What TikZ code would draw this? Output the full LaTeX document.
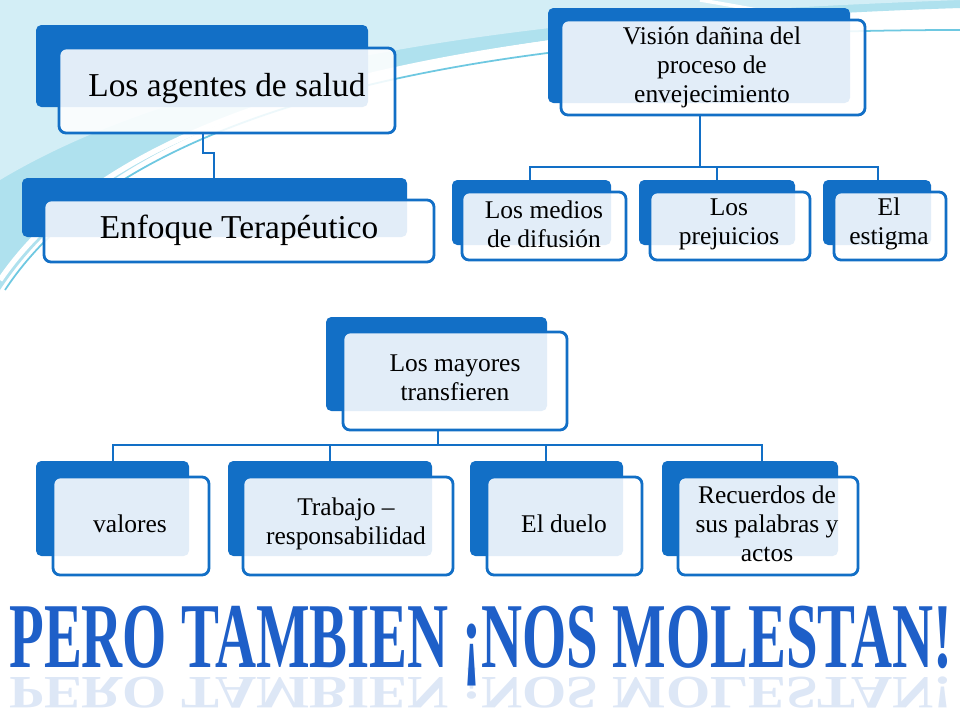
\documentclass[tikz,border=0pt]{standalone}
\usepackage{fontspec}
\setmainfont{Liberation Serif}
\usetikzlibrary{positioning}
\definecolor{boxblue}{RGB}{18,111,198}
\definecolor{skyblue}{RGB}{110,200,225}
\definecolor{titleblue}{RGB}{30,95,200}

\tikzset{
	bigtext/.style={align=center, font=\fontsize{19}{22}\selectfont},
	smalltext/.style={align=center, font=\fontsize{14.5}{16.5}\selectfont},
	link/.style={draw=boxblue, line width=1.6pt},
	titletext/.style={text=titleblue, font=\bfseries\fontsize{44}{44}\selectfont}
}

\begin{document}
\begin{tikzpicture}[x=0.02cm, y=-0.02cm]
	\useasboundingbox (0,0) rectangle (960,720);
	\fill[white] (0,0) rectangle (960,720);
	
	% top swoosh
	\fill[skyblue!55] (0,0) -- (960,0) -- (960,8) .. controls (600,20) and (150,60) .. (0,290) -- cycle;
	\fill[skyblue!30!white] (0,0) -- (960,0) .. controls (700,10) and (250,30) .. (0,180) -- cycle;
	\draw[white, line width=3pt] (0,280) .. controls (150,60) and (600,25) .. (960,12);
	\draw[white, line width=2pt] (700,0) .. controls (820,20) and (900,40) .. (960,60);
	\draw[skyblue, line width=1pt] (5,290) .. controls (150,70) and (600,30) .. (960,30);
	
	% back boxes
	\foreach \nm/\xa/\ya/\xb/\yb in {agentes/36/25/368/107, enfoque/22/178/407/237,
		vision/548/8/850/103, medios/452/180/611/245, prejuicios/639/180/795/245, estigma/823/180/931/245,
		mayores/326/317/547/411, valores/36/461/189/556, trabajo/228/461/432/556,
		duelo/470/461/623/556, recuerdos/662/461/838/556}
		\fill[boxblue, rounded corners=3pt] (\xa,\ya) coordinate (\nm-b) rectangle (\xb,\yb) coordinate (\nm-be);
	
	% front boxes
	\foreach \nm/\xa/\ya/\xb/\yb in {agentes/59/48/395/133, enfoque/44/200/434/262,
		vision/561/20/865/115, medios/462/192/626/260, prejuicios/650/192/810/260, estigma/834/192/946/260,
		mayores/343/332/567/430, valores/53/477/209/575, trabajo/243/477/453/575,
		duelo/487/477/642/575, recuerdos/678/477/858/575}
		\draw[boxblue, line width=1.6pt, fill=white, fill opacity=0.88, rounded corners=4pt] (\xa,\ya) coordinate (\nm-f) rectangle (\xb,\yb) coordinate (\nm-fe);
	
	% texts
	\node[bigtext] (agentes) at (227,89) {Los agentes de salud};
	\node[bigtext] (enfoque) at (239,230) {Enfoque Terapéutico};
	\node[smalltext] (vision) at (712,67) {Visión dañina del\\proceso de\\envejecimiento};
	\node[smalltext] (medios) at (544,224) {Los medios\\de difusión};
	\node[smalltext] (prejuicios) at (729,224) {Los\\prejuicios};
	\node[smalltext] (estigma) at (889,224) {El\\estigma};
	\node[smalltext] (mayores) at (455,378) {Los mayores\\transfieren};
	\node[smalltext] (valores) at (130,524) {valores};
	\node[smalltext] (trabajo) at (346,524) {Trabajo –\\responsabilidad};
	\node[smalltext] (duelo) at (564,524) {El duelo};
	\node[smalltext] (recuerdos) at (767,524) {Recuerdos de\\sus palabras y\\actos};
	
	% connectors
	\draw[link] (203,133) -- (203,153) -- (214,153) -- (214,178);
	\draw[link] (700,115) -- (700,167);
	\draw[link] (530,180) -- (530,167) -- (878,167) -- (878,180);
	\draw[link] (717,167) -- (717,180);
	\draw[link] (438,430) -- (438,445);
	\draw[link] (113,461) -- (113,445) -- (762,445) -- (762,461);
	\draw[link] (330,445) -- (330,461);
	\draw[link] (546,445) -- (546,461);
	
	% title with reflection
	\node[titletext, xscale=0.735, yscale=1.2] (title) at (481,646) {PERO TAMBIEN ¡NOS MOLESTAN!};
	\node[titletext, opacity=0.15, xscale=0.735, yscale=-0.6] (shadow) at (481,688) {PERO TAMBIEN ¡NOS MOLESTAN!};
\end{tikzpicture}
\end{document}
